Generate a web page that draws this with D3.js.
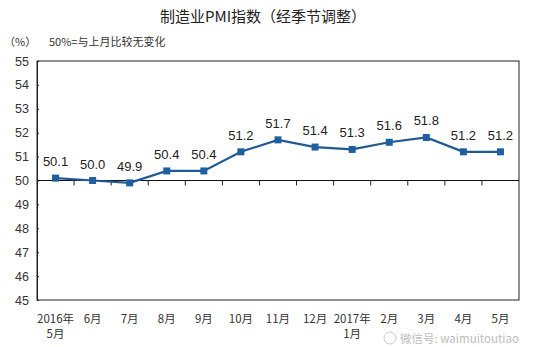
<!DOCTYPE html>
<html><head><meta charset="utf-8">
<script src="https://cdn.jsdelivr.net/npm/d3@7"></script>
<style>body{margin:0;background:#fff;}svg{display:block;font-family:"Liberation Sans",Arial,"Noto Sans CJK SC",sans-serif;}</style>
</head><body>
<script>
const months = ["2016年\n5月","6月","7月","8月","9月","10月","11月","12月","2017年\n1月","2月","3月","4月","5月"];
const pmi = [50.1,50.0,49.9,50.4,50.4,51.2,51.7,51.4,51.3,51.6,51.8,51.2,51.2];
const yTicks = [45,46,47,48,49,50,51,52,53,54,55];
const title = "制造业PMI指数（经季节调整）";
const unitLabel = "（%）";
const note = "50%=与上月比较无变化";
const watermark = "微信号: waimuitoutiao";

const W = 551, H = 347;
const m = {left:37, right:32, top:61, bottom:47};
const svg = d3.select("body").append("svg").attr("width",W).attr("height",H);
const x = d3.scaleBand().domain(d3.range(months.length)).range([m.left, W-m.right]);
const y = d3.scaleLinear().domain([45,55]).range([H-m.bottom, m.top]);
const cjk = '"Noto Sans CJK SC",sans-serif';

svg.append("text").attr("x",263).attr("y",22).attr("text-anchor","middle")
  .attr("font-size",15).attr("fill","#222").style("font-family",cjk).text(title);
svg.append("text").attr("x",4).attr("y",46).attr("font-size",11).attr("fill","#333").style("font-family",cjk).text(unitLabel);
svg.append("text").attr("x",49).attr("y",46).attr("font-size",11).attr("fill","#333").style("font-family",cjk).text(note);

// plot frame
svg.append("rect").attr("x",m.left).attr("y",m.top).attr("width",W-m.right-m.left).attr("height",H-m.bottom-m.top)
  .attr("fill","none").attr("stroke","#222").attr("stroke-width",1);

// y axis
const ya = svg.append("g").attr("transform",`translate(${m.left},0)`)
  .call(d3.axisLeft(y).tickValues(yTicks).tickSize(4).tickSizeOuter(0).tickPadding(4));
ya.select(".domain").attr("stroke","#222");
ya.selectAll(".tick line").attr("stroke","#222").attr("x2",2);
ya.selectAll(".tick text").attr("font-size",12.5).attr("fill","#333");

// 50 baseline with category ticks
const y50 = y(50);
svg.append("line").attr("x1",m.left).attr("x2",W-m.right).attr("y1",y50).attr("y2",y50).attr("stroke","#111").attr("stroke-width",1.2);
const bounds = d3.range(1, months.length).map(i => x(i));
svg.selectAll(".ct").data(bounds).enter().append("line")
  .attr("x1",d=>d).attr("x2",d=>d).attr("y1",y50).attr("y2",y50+5).attr("stroke","#222");

// x labels
const xl = svg.append("g");
months.forEach((mo,i)=>{
  const lines = mo.split("\n");
  const t = xl.append("text").attr("text-anchor","middle").attr("font-size",11.5).attr("fill","#333")
    .style("font-family",cjk);
  lines.forEach((ln,j)=>{
    t.append("tspan").attr("x",x(i)+x.bandwidth()/2).attr("y",H-m.bottom+23+j*15).text(ln);
  });
});

// line
const cx = i => x(i)+x.bandwidth()/2;
svg.append("path").datum(pmi).attr("fill","none").attr("stroke","#1f5a92").attr("stroke-width",2.2)
  .attr("d", d3.line().x((d,i)=>cx(i)).y(d=>y(d)));
svg.selectAll(".mk").data(pmi).enter().append("rect")
  .attr("x",(d,i)=>cx(i)-3.5).attr("y",d=>y(d)-3.5).attr("width",7).attr("height",7).attr("fill","#1f5fa0");
svg.selectAll(".lb").data(pmi).enter().append("text")
  .attr("x",(d,i)=>cx(i)).attr("y",d=>y(d)-12).attr("text-anchor","middle")
  .attr("font-size",13).attr("fill","#222").text(d=>d.toFixed(1));

// watermark (placed just below the month labels)
const wm = svg.append("g").attr("opacity",0.55);
wm.append("circle").attr("cx",390).attr("cy",338).attr("r",6).attr("fill","none").attr("stroke","#999").attr("stroke-width",1);
wm.append("text").attr("x",400).attr("y",343).attr("font-size",11.5).attr("fill","#888").style("font-family",cjk).text(watermark);
</script>
</body></html>
